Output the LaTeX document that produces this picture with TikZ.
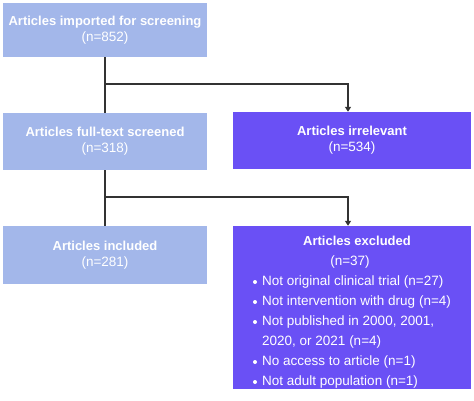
\documentclass[tikz,border=0pt]{standalone}
\usepackage{fontspec}
\setmainfont{Liberation Sans}
\usetikzlibrary{arrows.meta}
\definecolor{lightbox}{HTML}{A3B7EA}
\definecolor{darkbox}{HTML}{6A50F5}
\definecolor{linecol}{HTML}{333333}
\newcommand{\hd}[1]{{\fontsize{13}{16}\selectfont\bfseries #1}}
\begin{document}
\begin{tikzpicture}[x=1pt,y=-1pt,
  boxbase/.style={rectangle, inner sep=0pt, text=white, align=center, font=\fontsize{13.5}{16}\selectfont},
  lbox/.style={boxbase, fill=lightbox},
  dbox/.style={boxbase, fill=darkbox},
  txt/.style={text=white, inner sep=0pt, font=\fontsize{13.5}{16}\selectfont},
  conn/.style={draw=linecol, line width=1.2pt},
  arr/.style={conn, -{Triangle[length=5pt,width=6pt]}},
  dot/.style={fill=white, draw=none}]
\useasboundingbox (0,0) rectangle (474,400);
\node[lbox, minimum width=204pt, minimum height=54pt] (imp) at (105,30) {\hd{Articles imported for screening}\\(n=852)};
\node[lbox, minimum width=204pt, minimum height=57pt] (full) at (105,141.5) {\hd{Articles full-text screened}\\(n=318)};
\node[dbox, minimum width=238pt, minimum height=57pt] (irr) at (352,140.5) {\hd{Articles irrelevant}\\(n=534)};
\node[lbox, minimum width=204pt, minimum height=58pt] (inc) at (105,255) {\hd{Articles included}\\(n=281)};
\node[dbox, minimum width=238pt, minimum height=163pt] (exc) at (352,307.5) {};
\node[txt] (exct) at (357,241) {\hd{Articles excluded}};
\node[txt] (excn) at (350,262) {(n=37)};
\node[txt, anchor=west] (e1) at (262,282) {Not original clinical trial (n=27)};
\node[txt, anchor=west] (e2) at (262,302) {Not intervention with drug (n=4)};
\node[txt, anchor=west] (e3) at (262,322) {Not published in 2000, 2001,};
\node[txt, anchor=west] (e3b) at (262,342) {2020, or 2021 (n=4)};
\node[txt, anchor=west] (e4) at (262,362) {No access to article (n=1)};
\node[txt, anchor=west] (e5) at (262,382) {Not adult population (n=1)};
\foreach \yy in {282,302,322,362,382} \fill[dot] (255,\yy) circle (2pt);
\coordinate (j1) at (105,84);
\coordinate (j2) at (105,197);
\draw[conn] (imp.south) -- (full.north);
\draw[arr] (j1) -| ([xshift=-4pt]irr.north);
\draw[conn] (full.south) -- (inc.north);
\draw[arr] (j2) -| ([xshift=-4pt]exc.north);
\end{tikzpicture}
\end{document}
